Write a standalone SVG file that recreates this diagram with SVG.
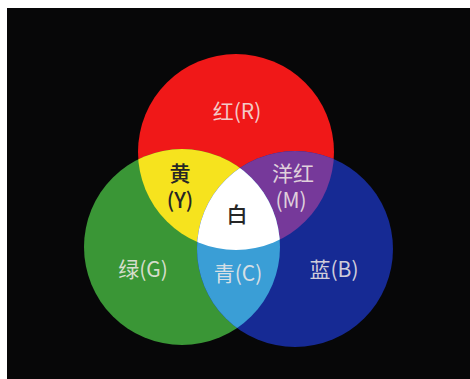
<svg xmlns="http://www.w3.org/2000/svg" width="470" height="379" viewBox="0 0 470 379">
<style>
text{font-family:"Noto Sans CJK SC","Noto Sans",sans-serif;font-size:21px;text-anchor:middle;dominant-baseline:central}
.lt{fill:#f4ece8;fill-opacity:0.85}
.dk{fill:#262626;font-weight:500}
</style>
<defs>
<clipPath id="cr"><circle cx="236" cy="152" r="98"/></clipPath>
<clipPath id="cg"><circle cx="182" cy="247" r="98"/></clipPath>
<clipPath id="cb"><circle cx="295" cy="249" r="98"/></clipPath>
</defs>
<rect x="0" y="0" width="470" height="379" fill="#ffffff"/>
<rect x="7" y="8" width="463" height="371" fill="#070708"/>
<g id="red"><circle cx="236" cy="152" r="98" fill="#f01818"/></g>
<g id="green"><circle cx="182" cy="247" r="98" fill="#3a9636"/></g>
<g id="blue"><circle cx="295" cy="249" r="98" fill="#162a94"/></g>
<g id="yellow"><g clip-path="url(#cr)"><circle cx="182" cy="247" r="98" fill="#f6e31e"/></g></g>
<g id="magenta"><g clip-path="url(#cr)"><circle cx="295" cy="249" r="98" fill="#76399a"/></g></g>
<g id="cyan"><g clip-path="url(#cg)"><circle cx="295" cy="249" r="98" fill="#3a9ed6"/></g></g>
<g id="white"><g clip-path="url(#cr)"><g clip-path="url(#cg)"><circle cx="295" cy="249" r="98" fill="#ffffff"/></g></g></g>
<g id="labels">
<text x="237" y="110" class="lt">红(R)</text>
<text x="180" y="172" class="dk">黄</text>
<text x="180" y="199" class="dk">(Y)</text>
<text x="293" y="172" class="lt">洋红</text>
<text x="291" y="199" class="lt">(M)</text>
<text x="237" y="213" class="dk">白</text>
<text x="143" y="268" class="lt">绿(G)</text>
<text x="238" y="272" class="lt">青(C)</text>
<text x="334" y="268" class="lt">蓝(B)</text>
</g>
</svg>
